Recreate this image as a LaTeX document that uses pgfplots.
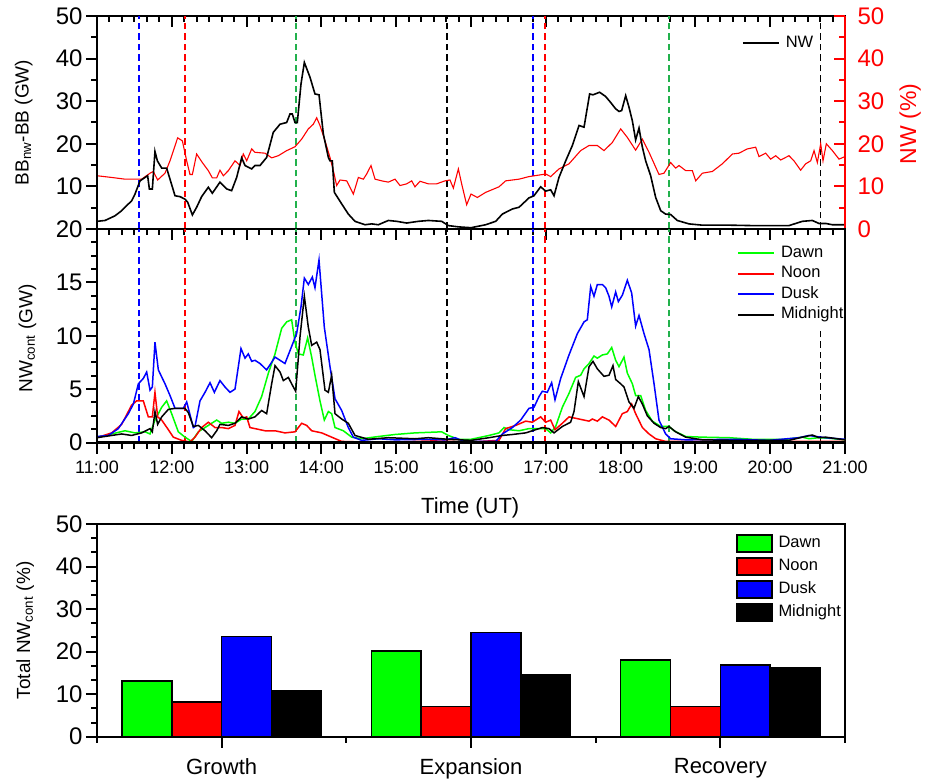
\documentclass[border=0pt]{standalone}
\usepackage{fontspec}
\setmainfont{Liberation Sans}
\usepackage{pgfplots}
\pgfplotsset{compat=1.18}
\newcommand\fs[1]{\fontsize{#1}{#1}\selectfont}
\definecolor{dgreen}{RGB}{34,177,76}
\pgfplotsset{
 base/.style={scale only axis, width=748pt, xmin=11, xmax=21,
   axis line style={line width=2.4pt,-}, tick style={line width=2pt, black},
   major tick length=11pt, minor tick length=6pt,
   /pgf/number format/assume math mode=true,
   yticklabel style={font=\fs{24}}, xticklabel style={font=\fs{18}},
   legend cell align=left},
 vline/.style={dash pattern=on 6.5pt off 4pt, line width=1.6pt, forget plot},
 lgd/.style={legend style={draw=none, fill=none, at={#1}, anchor=north west,
   inner sep=0pt, row sep=4.5pt, column sep=6pt, font=\fs{16.5},
   nodes={inner sep=0pt, text height=12pt, text depth=4pt}}},
}
\begin{document}
\begin{tikzpicture}[x=1pt,y=1pt]
\useasboundingbox (0pt,0pt) rectangle (926pt,780pt);
% ---------------- top panel ----------------
\begin{axis}[base, at={(97pt,551pt)}, anchor=south west, height=213pt,
  ymin=0, ymax=50, tick align=inside, xtick={11,...,21}, minor x tick num=5,
  xtick pos=right, xticklabels={}, ytick=\empty, lgd={(0.862,0.911)},
  legend image code/.code={\draw[#1, line width=1.8pt] (0pt,0pt) -- (36pt,0pt);}]
\addplot[vline, blue] coordinates {(11.56,0) (11.56,50)};
\addplot[vline, red] coordinates {(12.18,0) (12.18,50)};
\addplot[vline, dgreen] coordinates {(13.66,0) (13.66,50)};
\addplot[vline, black] coordinates {(15.68,0) (15.68,50)};
\addplot[vline, blue] coordinates {(16.83,0) (16.83,50)};
\addplot[vline, red] coordinates {(16.99,0) (16.99,50)};
\addplot[vline, dgreen] coordinates {(18.65,0) (18.65,50)};
\addplot[vline, black] coordinates {(20.67,0) (20.67,50)};
% NW (%) red, right axis (same 0-50 scale)
\addplot[red, line width=1.1pt, forget plot] coordinates {
(11.000,12.5)(11.196,12.1)(11.374,11.7)(11.597,11.7)(11.709,13.1)(11.753,13.5)(11.811,11.5)(11.909,13.1)
(11.976,16.0)(12.078,21.4)(12.141,20.7)(12.199,16.0)(12.243,12.8)(12.275,12.8)(12.332,17.6)(12.408,15.6)
(12.488,13.7)(12.542,12.0)(12.600,12.0)(12.644,13.8)(12.689,12.5)(12.756,13.7)(12.845,16.0)(12.912,14.9)
(12.956,17.6)(13.001,16.0)(13.068,18.8)(13.112,18.0)(13.246,17.8)(13.335,16.7)(13.424,17.2)(13.536,18.4)
(13.647,19.3)(13.736,21.1)(13.825,23.5)(13.892,24.6)(13.937,26.1)(13.981,24.3)(14.048,20.7)(14.115,16.8)
(14.160,13.7)(14.204,10.2)(14.249,11.5)(14.338,11.3)(14.427,8.2)(14.494,12.1)(14.561,11.7)(14.605,12.9)
(14.663,14.9)(14.717,11.7)(14.806,11.3)(14.895,11.0)(14.984,11.7)(15.051,10.2)(15.140,10.6)(15.207,11.3)
(15.251,9.9)(15.318,11.2)(15.430,10.6)(15.541,10.6)(15.652,11.3)(15.719,11.5)(15.764,9.6)(15.831,14.1)
(15.875,10.6)(15.942,5.7)(16.000,8.2)(16.085,7.4)(16.196,8.6)(16.374,9.9)(16.463,11.3)(16.642,11.7)
(16.775,12.3)(16.998,12.9)(17.065,12.3)(17.176,14.1)(17.310,15.3)(17.466,18.4)(17.578,19.6)(17.689,19.6)
(17.778,18.4)(17.889,20.3)(18.001,23.5)(18.090,21.5)(18.201,18.5)(18.291,21.1)(18.380,18.0)(18.513,12.8)
(18.580,13.1)(18.669,15.6)(18.736,14.3)(18.781,14.9)(18.870,13.7)(18.959,13.7)(19.004,11.3)(19.093,13.1)
(19.226,13.5)(19.360,15.3)(19.494,17.6)(19.583,17.8)(19.694,18.8)(19.806,19.2)(19.850,17.0)(19.939,17.8)
(20.006,16.4)(20.073,17.2)(20.140,16.2)(20.251,17.2)(20.318,16.0)(20.407,13.8)(20.474,15.3)(20.541,16.0)
(20.586,18.4)(20.630,15.6)(20.675,20.0)(20.706,16.0)(20.750,20.0)(20.831,18.4)(20.920,16.4)(21.000,17.0)};
% NW black
\addplot[black, line width=1.6pt] coordinates {
(11.000,1.8)(11.107,2.0)(11.241,3.1)(11.330,4.3)(11.397,5.5)(11.463,6.6)(11.508,8.2)(11.575,11.3)
(11.642,12.1)(11.677,12.5)(11.700,9.4)(11.740,9.4)(11.775,18.2)(11.807,16.0)(11.865,14.3)(11.931,14.3)
(12.043,7.8)(12.110,7.6)(12.176,7.0)(12.212,6.3)(12.275,3.3)(12.332,5.1)(12.399,7.6)(12.488,9.8)
(12.542,8.4)(12.644,11.0)(12.734,9.4)(12.800,9.0)(12.867,12.1)(12.934,16.7)(12.979,14.9)(13.068,14.1)
(13.112,14.9)(13.179,14.9)(13.268,16.8)(13.357,22.7)(13.447,24.6)(13.536,25.0)(13.580,27.0)(13.611,27.0)
(13.647,25.0)(13.678,25.0)(13.727,34.0)(13.772,39.1)(13.848,35.6)(13.914,31.7)(13.968,31.5)(14.026,22.3)
(14.093,16.8)(14.115,16.0)(14.146,16.0)(14.173,8.6)(14.271,5.9)(14.360,3.5)(14.449,1.8)(14.583,1.0)
(14.672,1.2)(14.761,1.0)(14.895,2.0)(15.006,1.8)(15.140,1.4)(15.296,1.8)(15.430,2.0)(15.608,1.8)
(15.697,0.8)(15.831,0.5)(16.000,0.3)(16.196,1.0)(16.330,1.8)(16.419,3.5)(16.553,4.7)(16.642,5.1)
(16.775,7.3)(16.842,7.8)(16.931,9.9)(16.998,8.9)(17.065,9.2)(17.110,7.8)(17.176,12.1)(17.266,16.0)
(17.355,19.6)(17.444,24.3)(17.511,23.9)(17.586,31.7)(17.631,31.5)(17.720,32.1)(17.800,31.1)(17.867,29.7)
(17.934,28.2)(17.979,27.6)(18.014,27.8)(18.068,31.3)(18.112,28.6)(18.157,25.4)(18.201,20.9)(18.246,23.7)
(18.291,19.2)(18.335,16.0)(18.402,12.5)(18.469,7.4)(18.536,4.3)(18.602,3.5)(18.669,3.4)(18.758,2.0)
(18.914,1.2)(19.093,0.9)(19.449,0.9)(19.761,0.8)(20.251,0.8)(20.430,1.8)(20.563,2.0)(20.652,1.3)
(20.742,1.3)(20.831,1.0)(21.000,1.0)};
\addlegendentry{NW}
\end{axis}
\begin{axis}[base, at={(97pt,551pt)}, anchor=south west, height=213pt,
  ymin=0, ymax=50, hide x axis, axis y line*=left, ytick pos=left, yticklabel pos=left,
  tick align=outside, ytick={10,20,...,50}, minor ytick={5,15,...,45},
  ylabel={BB\textsubscript{nw}-BB (GW)},
  ylabel style={font=\fs{19}, at={(axis description cs:-0.098,0.5)}, anchor=center}]
\end{axis}
\begin{axis}[base, at={(97pt,551pt)}, anchor=south west, height=213pt,
  ymin=0, ymax=50, hide x axis, axis y line*=right, ytick pos=right, yticklabel pos=right,
  tick align=inside, ytick={0,10,...,50}, minor ytick={5,15,...,45},
  axis line style={red, line width=2.4pt,-}, tick style={red, line width=2pt},
  yticklabel style={red, font=\fs{24}, xshift=9pt},
  ylabel={NW (\%)},
  ylabel style={red, font=\fs{23}, at={(axis description cs:1.087,0.493)}, anchor=center}]
\end{axis}
% ---------------- middle panel ----------------
\begin{axis}[base, at={(97pt,337.5pt)}, anchor=south west, height=213.5pt,
  ymin=0, ymax=20, tick align=inside, xtick={11,...,21}, minor x tick num=5,
  xtick pos=right, xticklabels={}, ytick=\empty, lgd={(0.8556,0.925)},
  legend image code/.code={\draw[#1, line width=1.8pt] (0pt,0pt) -- (36pt,0pt);}]
\addplot[vline, blue] coordinates {(11.56,0) (11.56,20)};
\addplot[vline, red] coordinates {(12.18,0) (12.18,20)};
\addplot[vline, dgreen] coordinates {(13.66,0) (13.66,20)};
\addplot[vline, black] coordinates {(15.68,0) (15.68,20)};
\addplot[vline, blue] coordinates {(16.83,0) (16.83,20)};
\addplot[vline, red] coordinates {(16.99,0) (16.99,20)};
\addplot[vline, dgreen] coordinates {(18.65,0) (18.65,20)};
\addplot[vline, black] coordinates {(20.67,0) (20.67,10.8)};
% Dawn
\addplot[green, line width=1.5pt] coordinates {
(11.000,0.5)(11.196,0.8)(11.374,1.1)(11.508,0.9)(11.642,1.0)(11.709,0.8)(11.775,2.1)(11.865,3.3)
(11.931,3.9)(11.998,2.7)(12.087,1.0)(12.176,0.5)(12.266,0.1)(12.355,1.0)(12.488,1.6)(12.600,2.1)
(12.667,1.8)(12.756,1.9)(12.845,1.8)(12.934,2.2)(13.023,2.2)(13.112,2.9)(13.201,4.3)(13.291,6.5)
(13.380,8.3)(13.469,10.7)(13.536,11.3)(13.602,11.5)(13.647,9.4)(13.692,8.3)(13.758,8.2)(13.816,9.8)
(13.870,8.0)(13.914,6.3)(13.981,3.9)(14.039,2.1)(14.093,2.9)(14.137,2.7)(14.182,1.4)(14.293,1.1)
(14.405,0.5)(14.538,0.35)(14.761,0.56)(14.984,0.75)(15.251,0.9)(15.430,0.95)(15.608,1.0)(15.697,0.66)
(15.831,0.3)(16.000,0.3)(16.241,0.66)(16.374,0.9)(16.441,1.4)(16.508,1.2)(16.642,1.1)(16.775,1.3)
(16.909,1.3)(16.998,1.3)(17.065,0.9)(17.132,1.5)(17.221,3.3)(17.310,4.6)(17.399,6.1)(17.466,6.3)
(17.511,6.9)(17.578,7.4)(17.644,8.1)(17.689,7.9)(17.756,8.2)(17.823,8.3)(17.881,8.9)(17.934,7.7)
(17.979,7.1)(18.045,8.0)(18.090,6.5)(18.157,5.5)(18.201,4.4)(18.268,4.4)(18.335,3.0)(18.424,2.0)
(18.536,1.5)(18.647,1.5)(18.714,1.1)(18.870,0.56)(19.093,0.5)(19.449,0.45)(19.761,0.3)(20.207,0.3)
(20.430,0.5)(20.519,0.35)(20.652,0.45)(20.786,0.4)(21.000,0.25)};
\addlegendentry{Dawn}
% Noon
\addplot[red, line width=1.5pt] coordinates {
(11.000,0.45)(11.196,0.9)(11.330,1.7)(11.463,3.5)(11.530,3.9)(11.619,3.9)(11.686,2.4)(11.740,2.4)
(11.775,4.7)(11.811,2.4)(11.865,2.1)(11.954,1.2)(12.020,0.5)(12.132,0.2)(12.243,0.05)(12.310,0.5)
(12.399,1.4)(12.488,1.9)(12.578,1.4)(12.667,1.4)(12.756,1.3)(12.845,1.6)(12.898,2.9)(12.956,2.3)
(13.001,2.4)(13.045,1.4)(13.112,1.3)(13.246,1.1)(13.380,1.1)(13.513,0.9)(13.647,1.0)(13.736,1.8)
(13.803,1.6)(13.870,1.1)(14.004,0.9)(14.137,0.5)(14.271,0.1)(14.538,0.05)(15.000,0.05)(15.500,0.15)
(16.000,0.05)(16.374,0.2)(16.463,1.3)(16.597,1.6)(16.731,2.0)(16.820,1.9)(16.931,2.4)(16.998,1.9)
(17.065,2.1)(17.123,1.2)(17.221,1.8)(17.310,2.4)(17.444,2.2)(17.578,2.0)(17.622,2.2)(17.689,2.0)
(17.756,2.4)(17.845,2.1)(17.934,1.5)(18.023,2.7)(18.090,2.9)(18.148,3.6)(18.201,2.7)(18.291,1.4)
(18.380,0.8)(18.469,0.35)(18.602,0.1)(21.000,0.1)};
\addlegendentry{Noon}
% Dusk
\addplot[blue, line width=1.5pt] coordinates {
(11.000,0.56)(11.152,0.66)(11.285,1.3)(11.419,2.7)(11.486,3.6)(11.553,5.5)(11.619,6.0)(11.664,6.6)
(11.709,4.9)(11.740,5.2)(11.775,9.4)(11.820,6.8)(11.909,5.5)(11.976,4.4)(12.043,3.2)(12.154,3.2)
(12.199,3.8)(12.288,1.4)(12.310,1.5)(12.377,3.9)(12.444,4.7)(12.511,5.6)(12.569,4.7)(12.644,5.8)
(12.711,5.2)(12.778,4.7)(12.845,5.0)(12.925,8.8)(12.979,7.9)(13.023,8.3)(13.068,7.6)(13.112,7.7)
(13.179,7.4)(13.268,6.8)(13.380,8.0)(13.513,7.4)(13.602,9.0)(13.669,10.2)(13.727,12.7)(13.772,15.4)
(13.825,14.8)(13.879,15.5)(13.914,14.5)(13.968,17.1)(14.039,10.8)(14.115,7.1)(14.182,4.1)(14.271,3.0)
(14.360,1.4)(14.427,0.5)(14.538,0.2)(14.761,0.35)(14.984,0.25)(15.430,0.3)(15.652,0.25)(15.786,0.45)
(15.875,0.2)(16.000,0.1)(16.330,0.1)(16.419,0.8)(16.553,1.4)(16.664,2.1)(16.775,3.2)(16.842,3.3)
(16.909,4.3)(16.954,4.8)(17.020,4.7)(17.078,5.6)(17.123,4.0)(17.199,6.0)(17.310,8.2)(17.422,10.2)
(17.511,11.3)(17.555,11.5)(17.600,14.6)(17.644,13.7)(17.689,14.8)(17.756,14.8)(17.800,14.5)(17.845,13.7)
(17.881,12.7)(17.934,14.1)(17.970,13.2)(18.023,13.8)(18.090,15.2)(18.148,14.0)(18.201,10.9)(18.246,11.9)
(18.313,10.2)(18.380,8.7)(18.447,5.5)(18.513,2.1)(18.602,0.8)(18.669,0.35)(18.870,0.25)(19.538,0.3)
(19.984,0.2)(20.385,0.45)(20.519,0.66)(20.608,0.56)(20.742,0.45)(21.000,0.3)};
\addlegendentry{Dusk}
% Midnight
\addplot[black, line width=1.5pt] coordinates {
(11.000,0.45)(11.196,0.66)(11.330,0.8)(11.463,0.66)(11.597,0.9)(11.709,1.3)(11.740,1.0)(11.775,2.9)
(11.811,1.7)(11.865,2.4)(11.954,3.1)(12.043,3.2)(12.176,3.2)(12.221,2.8)(12.288,1.5)(12.355,1.6)
(12.444,1.1)(12.533,0.45)(12.600,1.1)(12.644,1.7)(12.756,1.6)(12.845,1.8)(12.934,2.4)(13.023,2.2)
(13.112,2.4)(13.201,3.0)(13.268,2.7)(13.335,5.5)(13.380,7.2)(13.447,6.6)(13.491,5.8)(13.558,6.1)
(13.602,5.5)(13.656,4.8)(13.714,9.9)(13.772,13.7)(13.825,10.8)(13.870,9.1)(13.937,9.4)(13.981,8.7)
(14.048,4.9)(14.093,4.7)(14.137,6.3)(14.182,2.7)(14.271,2.2)(14.360,1.8)(14.449,0.66)(14.627,0.3)
(14.895,0.45)(15.251,0.35)(15.430,0.45)(15.697,0.3)(16.000,0.2)(16.241,0.45)(16.419,0.66)(16.553,0.75)
(16.731,0.9)(16.865,1.2)(16.954,1.4)(17.043,1.3)(17.110,0.9)(17.221,1.5)(17.332,1.9)(17.377,2.9)
(17.435,5.7)(17.511,4.3)(17.578,7.1)(17.631,7.6)(17.689,6.9)(17.778,6.2)(17.845,6.3)(17.898,7.2)
(17.934,5.9)(18.001,5.5)(18.045,5.2)(18.112,3.8)(18.179,3.2)(18.237,4.3)(18.291,3.6)(18.357,2.5)
(18.447,1.8)(18.536,1.4)(18.602,1.3)(18.647,1.5)(18.736,1.0)(18.870,0.5)(19.093,0.25)(19.538,0.2)
(20.251,0.2)(20.430,0.5)(20.563,0.7)(20.652,0.45)(20.742,0.5)(21.000,0.25)};
\addlegendentry{Midnight}
\end{axis}
\begin{axis}[base, at={(97pt,337.5pt)}, anchor=south west, height=213.5pt,
  ymin=0, ymax=20, axis x line*=bottom, axis y line*=left,
  xtick pos=left, ytick pos=left, xticklabel pos=left, yticklabel pos=left,
  tick align=outside, xtick={11,...,21},
  xticklabels={11:00,12:00,13:00,14:00,15:00,16:00,17:00,18:00,19:00,20:00,21:00},
  xticklabel style={yshift=-4pt},
  minor x tick num=5, ytick={0,5,10,15,20}, minor y tick num=3,
  xlabel={Time (UT)},
  xlabel style={font=\fs{22}, at={(axis description cs:0.499,-0.305)}, anchor=center},
  ylabel={NW\textsubscript{cont} (GW)},
  ylabel style={font=\fs{19}, at={(axis description cs:-0.093,0.487)}, anchor=center}]
\end{axis}
% ---------------- bottom panel ----------------
\begin{axis}[scale only axis, width=748pt, height=212.7pt, at={(97pt,43.3pt)}, anchor=south west,
  xmin=0.5, xmax=3.5, ymin=0, ymax=50,
  axis line style={line width=2.4pt,-}, tick style={line width=2pt, black},
  major tick length=11pt, minor tick length=6pt,
  /pgf/number format/assume math mode=true,
  tick align=outside, xtick pos=left, ytick pos=left,
  xtick={1,2,3}, xticklabels={Growth,Expansion,Recovery},
  minor xtick={0.5,1.5,2.5,3.5},
  ytick={0,10,...,50}, minor y tick num=2,
  yticklabel style={font=\fs{24}}, xticklabel style={font=\fs{22}, yshift=-7pt},
  ybar, bar width=0.2,
  ylabel={Total NW\textsubscript{cont} (\%)},
  ylabel style={font=\fs{19}, at={(axis description cs:-0.096,0.5)}, anchor=center},
  legend cell align=left, lgd={(0.854,0.953)},
  legend image code/.code={\draw[#1,/tikz/.cd] (0pt,-8.5pt) rectangle (35pt,8.5pt);}]
\addplot[fill=green, draw=black, line width=1.5pt, bar shift=-0.3] coordinates {(1,13.1) (2,20.2) (3,18.0)};
\addlegendentry{Dawn}
\addplot[fill=red, draw=black, line width=1.5pt, bar shift=-0.1] coordinates {(1,8.2) (2,7.1) (3,7.1)};
\addlegendentry{Noon}
\addplot[fill=blue, draw=black, line width=1.5pt, bar shift=0.1] coordinates {(1,23.6) (2,24.5) (3,16.9)};
\addlegendentry{Dusk}
\addplot[fill=black, draw=black, line width=1.5pt, bar shift=0.3] coordinates {(1,10.9) (2,14.6) (3,16.2)};
\addlegendentry{Midnight}
\end{axis}
\end{tikzpicture}
\end{document}
